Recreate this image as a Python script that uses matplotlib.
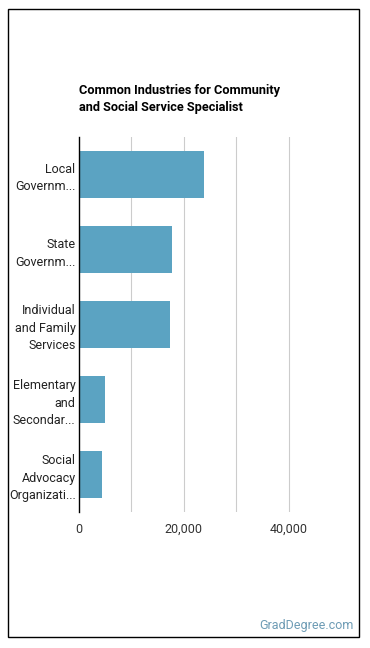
import matplotlib.pyplot as plt
from matplotlib.patches import Rectangle

plt.rcParams['font.family'] = ['Roboto', 'DejaVu Sans']

industries = ['Local\nGovernm...', 'State\nGovernm...', 'Individual\nand Family\nServices',
              'Elementary\nand\nSecondar...', 'Social\nAdvocacy\nOrganizati...']
workers = [23800, 17700, 17300, 5000, 4400]
tick_vals = [0, 20000, 40000]
tick_labels = ['0', '20,000', '40,000']

fig = plt.figure(figsize=(3.7, 6.48), dpi=100)
W, H = 370, 648

# outer frame
fig.patches.append(Rectangle((8 / W, 1 - 637 / H), 351 / W, 628 / H, transform=fig.transFigure,
                             fill=False, edgecolor='black', linewidth=1))

ax = fig.add_axes([79 / W, 1 - 512 / H, (341 - 79) / W, (512 - 137) / H])
pos = list(range(len(industries)))
ax.barh(pos, workers, height=0.63, color='#5ba3c2', zorder=2)
ax.set_ylim(len(industries) - 0.5, -0.5)
ax.set_xlim(0, 50000)
ax.set_yticks(pos)
ax.set_yticklabels(industries, fontsize=9, color='#222222', linespacing=1.45)
ax.set_xticks(tick_vals)
ax.set_xticklabels(tick_labels, fontsize=9, color='#333333')
for g in range(10000, 50000, 10000):
    ax.axvline(g, color='#cccccc', linewidth=0.8, zorder=1)
for s in ['top', 'right', 'bottom']:
    ax.spines[s].set_visible(False)
ax.spines['left'].set_color('black')
ax.spines['left'].set_linewidth(1)
ax.tick_params(axis='y', length=0, pad=2.5)
ax.tick_params(axis='x', length=0, pad=8)

fig.text(79 / W, 1 - 99 / H, 'Common Industries for Community\nand Social Service Specialist',
         fontsize=9.2, fontweight='bold', va='center', ha='left', linespacing=1.45)
fig.text(354 / W, 1 - 626 / H, 'GradDegree.com', fontsize=9, color='#6e9cb5', ha='right', va='center')

fig.savefig('out.png', dpi=100)
